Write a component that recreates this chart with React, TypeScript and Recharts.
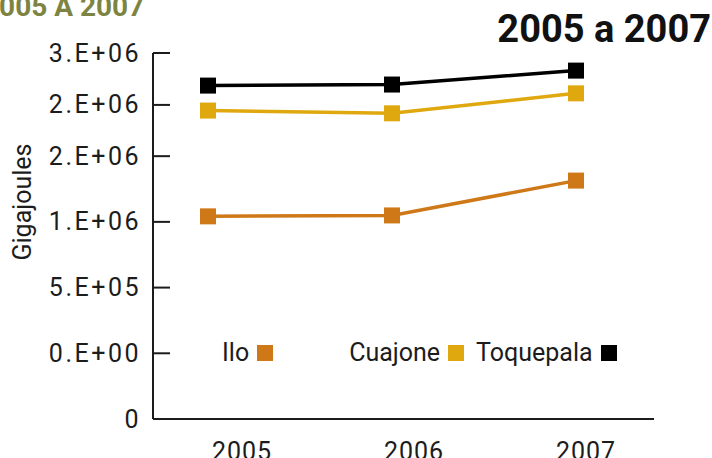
import React from 'react';
import { LineChart, Line, XAxis, YAxis, Legend, Customized } from 'recharts';

// ---- data ----
const years = ['2005', '2006', '2007'];
const ilo = [1042000, 1049000, 1314000];
const cuajone = [1847000, 1826000, 1978000];
const toquepala = [2037000, 2045000, 2151000];

const yTickValues = [-500000, 0, 500000, 1000000, 1500000, 1890000, 2285000];
const yTickLabels = ['0', '0.E+00', '5.E+05', '1.E+06', '2.E+06', '2.E+06', '3.E+06'];

const seriesNames = ['Ilo', 'Cuajone', 'Toquepala'];
const seriesColors = ['#CF7818', '#E0A80F', '#000000'];

const data = years.map((y, i) => ({
  year: y,
  Ilo: ilo[i],
  Cuajone: cuajone[i],
  Toquepala: toquepala[i],
}));

const FONT = 'Roboto';
const TEXT = '#1c1c1c';

const YTick = (props: any) => {
  const { x, y, payload } = props;
  const idx = yTickValues.indexOf(payload.value);
  return (
    <g>
      <line x1={x} x2={x + 17} y1={y} y2={y} stroke={TEXT} strokeWidth={2} />
      <text
        x={x - 12}
        y={y}
        textAnchor="end"
        dominantBaseline="central"
        fontFamily={FONT}
        fontSize={25}
        letterSpacing={2.5}
        fill={TEXT}
      >
        {idx >= 0 ? yTickLabels[idx] : ''}
      </text>
    </g>
  );
};

const XTick = (props: any) => {
  const { x, y, payload } = props;
  return (
    <text x={x} y={y + 41} textAnchor="middle" fontFamily={FONT} fontSize={25} letterSpacing={1} fill={TEXT}>
      {payload.value}
    </text>
  );
};

const squareDot = (color: string) => (p: any) => (
  <rect key={`d-${p.index}`} x={p.cx - 8} y={p.cy - 8} width={16} height={16} fill={color} />
);

const LegendContent = () => (
  <div style={{ display: 'flex', alignItems: 'center', fontFamily: FONT, fontSize: 25, lineHeight: '25px', color: TEXT }}>
    {seriesNames.map((n, i) => (
      <div key={n} style={{ display: 'flex', alignItems: 'center', marginRight: i === 0 ? 76 : 12 }}>
        <span>{n}</span>
        <span style={{ display: 'inline-block', width: 16, height: 16, background: seriesColors[i], marginLeft: 8 }} />
      </div>
    ))}
  </div>
);

const Titles = () => (
  <g>
    <text x={-17} y={16} fontFamily={FONT} fontWeight={700} fontSize={28} fill="#7D8442">
      2005 A 2007
    </text>
    <text x={711} y={42} textAnchor="end" fontFamily={FONT} fontWeight={700} fontSize={38} fill="#111">
      2005 a 2007
    </text>
  </g>
);

export default function App() {
  return (
    <div style={{ position: 'absolute', left: 0, top: 0, width: 712, height: 458, background: '#fff' }}>
      <LineChart width={712} height={458} data={data} margin={{ top: 53, right: 58, bottom: 0, left: 13 }}>
        <XAxis xAxisId="pts" dataKey="year" hide padding={{ left: 55, right: 78 }} />
        <XAxis
          xAxisId="lbl"
          dataKey="year"
          height={39}
          padding={{ left: 89, right: 68 }}
          axisLine={{ stroke: TEXT, strokeWidth: 2 }}
          tickLine={false}
          tickSize={0}
          tickMargin={0}
          tick={<XTick />}
          interval={0}
        />
        <YAxis
          type="number"
          width={140}
          domain={[-500000, 2285000]}
          ticks={yTickValues}
          interval={0}
          allowDataOverflow
          tickSize={0}
          tickMargin={0}
          tickLine={false}
          axisLine={{ stroke: TEXT, strokeWidth: 2 }}
          tick={<YTick />}
          label={{
            content: () => (
              <text
                x={31}
                y={202}
                transform="rotate(-90 31 202)"
                textAnchor="middle"
                fontFamily={FONT}
                fontSize={25}
                fill={TEXT}
              >
                Gigajoules
              </text>
            ),
          }}
        />
        {seriesNames.map((n, i) => (
          <Line
            key={n}
            xAxisId="pts"
            type="linear"
            dataKey={n}
            name={n}
            stroke={seriesColors[i]}
            strokeWidth={3.5}
            dot={squareDot(seriesColors[i])}
            activeDot={false}
            isAnimationActive={false}
          />
        ))}
        <Legend
          layout="horizontal"
          verticalAlign="middle"
          align="center"
          content={<LegendContent />}
          wrapperStyle={{ position: 'absolute', left: 222, top: 340, width: 'auto', height: 'auto' }}
        />
        <Customized component={Titles} />
      </LineChart>
    </div>
  );
}
